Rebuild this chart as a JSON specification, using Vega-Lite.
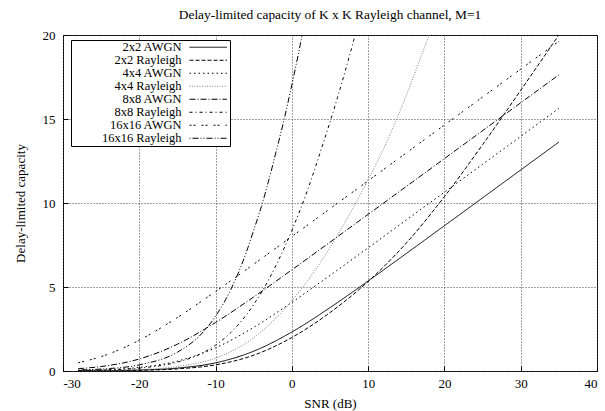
{
  "$schema": "https://vega.github.io/schema/vega-lite/v6.json",
  "width": 534,
  "height": 336,
  "autosize": {"type": "none"},
  "padding": {"left": 63, "top": 35, "right": 8, "bottom": 40},
  "background": "white",
  "title": {"text": "Delay-limited capacity of K x K Rayleigh channel, M=1", "font": "Liberation Serif", "fontSize": 13.4, "fontWeight": "normal", "color": "black", "offset": 8},
  "data": {"values": [
    {"s": "2x2 AWGN", "x": -28, "y": 0.009}, {"s": "2x2 AWGN", "x": -25, "y": 0.018}, {"s": "2x2 AWGN", "x": -20, "y": 0.057}, {"s": "2x2 AWGN", "x": -15, "y": 0.172}, {"s": "2x2 AWGN", "x": -10, "y": 0.485}, {"s": "2x2 AWGN", "x": -5, "y": 1.179}, {"s": "2x2 AWGN", "x": 0, "y": 2.322}, {"s": "2x2 AWGN", "x": 5, "y": 3.771}, {"s": "2x2 AWGN", "x": 10, "y": 5.358}, {"s": "2x2 AWGN", "x": 15, "y": 6.994}, {"s": "2x2 AWGN", "x": 20, "y": 8.648}, {"s": "2x2 AWGN", "x": 25, "y": 10.306}, {"s": "2x2 AWGN", "x": 30, "y": 11.966}, {"s": "2x2 AWGN", "x": 35, "y": 13.627},
    {"s": "2x2 Rayleigh", "x": -28, "y": 0.007}, {"s": "2x2 Rayleigh", "x": -25, "y": 0.013}, {"s": "2x2 Rayleigh", "x": -20, "y": 0.041}, {"s": "2x2 Rayleigh", "x": -15, "y": 0.126}, {"s": "2x2 Rayleigh", "x": -10, "y": 0.366}, {"s": "2x2 Rayleigh", "x": -5, "y": 0.942}, {"s": "2x2 Rayleigh", "x": 0, "y": 1.993}, {"s": "2x2 Rayleigh", "x": 5, "y": 3.477}, {"s": "2x2 Rayleigh", "x": 10, "y": 5.329}, {"s": "2x2 Rayleigh", "x": 15, "y": 7.616}, {"s": "2x2 Rayleigh", "x": 20, "y": 10.378}, {"s": "2x2 Rayleigh", "x": 25, "y": 13.468}, {"s": "2x2 Rayleigh", "x": 30, "y": 16.708}, {"s": "2x2 Rayleigh", "x": 35, "y": 20.003},
    {"s": "4x4 AWGN", "x": -28, "y": 0.036}, {"s": "4x4 AWGN", "x": -25, "y": 0.071}, {"s": "4x4 AWGN", "x": -20, "y": 0.214}, {"s": "4x4 AWGN", "x": -15, "y": 0.591}, {"s": "4x4 AWGN", "x": -10, "y": 1.379}, {"s": "4x4 AWGN", "x": -5, "y": 2.599}, {"s": "4x4 AWGN", "x": 0, "y": 4.087}, {"s": "4x4 AWGN", "x": 5, "y": 5.689}, {"s": "4x4 AWGN", "x": 10, "y": 7.331}, {"s": "4x4 AWGN", "x": 15, "y": 8.986}, {"s": "4x4 AWGN", "x": 20, "y": 10.645}, {"s": "4x4 AWGN", "x": 25, "y": 12.305}, {"s": "4x4 AWGN", "x": 30, "y": 13.966}, {"s": "4x4 AWGN", "x": 35, "y": 15.627},
    {"s": "4x4 Rayleigh", "x": -28, "y": 0.014}, {"s": "4x4 Rayleigh", "x": -25, "y": 0.027}, {"s": "4x4 Rayleigh", "x": -20, "y": 0.086}, {"s": "4x4 Rayleigh", "x": -15, "y": 0.265}, {"s": "4x4 Rayleigh", "x": -10, "y": 0.77}, {"s": "4x4 Rayleigh", "x": -5, "y": 1.98}, {"s": "4x4 Rayleigh", "x": 0, "y": 4.19}, {"s": "4x4 Rayleigh", "x": 5, "y": 7.35}, {"s": "4x4 Rayleigh", "x": 10, "y": 11.4}, {"s": "4x4 Rayleigh", "x": 12, "y": 13.2}, {"s": "4x4 Rayleigh", "x": 15, "y": 16.4}, {"s": "4x4 Rayleigh", "x": 17, "y": 18.8}, {"s": "4x4 Rayleigh", "x": 18, "y": 20.0}, {"s": "4x4 Rayleigh", "x": 19, "y": 21.2},
    {"s": "8x8 AWGN", "x": -28, "y": 0.139}, {"s": "8x8 AWGN", "x": -25, "y": 0.266}, {"s": "8x8 AWGN", "x": -20, "y": 0.714}, {"s": "8x8 AWGN", "x": -15, "y": 1.596}, {"s": "8x8 AWGN", "x": -10, "y": 2.888}, {"s": "8x8 AWGN", "x": -5, "y": 4.409}, {"s": "8x8 AWGN", "x": 0, "y": 6.022}, {"s": "8x8 AWGN", "x": 5, "y": 7.668}, {"s": "8x8 AWGN", "x": 10, "y": 9.324}, {"s": "8x8 AWGN", "x": 15, "y": 10.983}, {"s": "8x8 AWGN", "x": 20, "y": 12.644}, {"s": "8x8 AWGN", "x": 25, "y": 14.305}, {"s": "8x8 AWGN", "x": 30, "y": 15.966}, {"s": "8x8 AWGN", "x": 35, "y": 17.627},
    {"s": "8x8 Rayleigh", "x": -28, "y": 0.028}, {"s": "8x8 Rayleigh", "x": -25, "y": 0.055}, {"s": "8x8 Rayleigh", "x": -20, "y": 0.172}, {"s": "8x8 Rayleigh", "x": -15, "y": 0.53}, {"s": "8x8 Rayleigh", "x": -12, "y": 1.01}, {"s": "8x8 Rayleigh", "x": -10, "y": 1.54}, {"s": "8x8 Rayleigh", "x": -8, "y": 2.29}, {"s": "8x8 Rayleigh", "x": -6, "y": 3.32}, {"s": "8x8 Rayleigh", "x": -5, "y": 3.96}, {"s": "8x8 Rayleigh", "x": -3, "y": 5.47}, {"s": "8x8 Rayleigh", "x": -2, "y": 6.36}, {"s": "8x8 Rayleigh", "x": 0, "y": 8.37}, {"s": "8x8 Rayleigh", "x": 2, "y": 10.7}, {"s": "8x8 Rayleigh", "x": 4, "y": 13.4}, {"s": "8x8 Rayleigh", "x": 6, "y": 16.3}, {"s": "8x8 Rayleigh", "x": 8, "y": 19.5}, {"s": "8x8 Rayleigh", "x": 9, "y": 21.2},
    {"s": "16x16 AWGN", "x": -28, "y": 0.491}, {"s": "16x16 AWGN", "x": -25, "y": 0.856}, {"s": "16x16 AWGN", "x": -20, "y": 1.832}, {"s": "16x16 AWGN", "x": -15, "y": 3.185}, {"s": "16x16 AWGN", "x": -10, "y": 4.734}, {"s": "16x16 AWGN", "x": -5, "y": 6.357}, {"s": "16x16 AWGN", "x": 0, "y": 8.006}, {"s": "16x16 AWGN", "x": 5, "y": 9.663}, {"s": "16x16 AWGN", "x": 10, "y": 11.322}, {"s": "16x16 AWGN", "x": 15, "y": 12.983}, {"s": "16x16 AWGN", "x": 20, "y": 14.644}, {"s": "16x16 AWGN", "x": 25, "y": 16.305}, {"s": "16x16 AWGN", "x": 30, "y": 17.966}, {"s": "16x16 AWGN", "x": 35, "y": 19.627},
    {"s": "16x16 Rayleigh", "x": -28, "y": 0.059}, {"s": "16x16 Rayleigh", "x": -25, "y": 0.116}, {"s": "16x16 Rayleigh", "x": -20, "y": 0.365}, {"s": "16x16 Rayleigh", "x": -15, "y": 1.12}, {"s": "16x16 Rayleigh", "x": -12, "y": 2.14}, {"s": "16x16 Rayleigh", "x": -10, "y": 3.26}, {"s": "16x16 Rayleigh", "x": -8, "y": 4.85}, {"s": "16x16 Rayleigh", "x": -6, "y": 7.03}, {"s": "16x16 Rayleigh", "x": -5, "y": 8.38}, {"s": "16x16 Rayleigh", "x": -4, "y": 9.78}, {"s": "16x16 Rayleigh", "x": -3, "y": 11.4}, {"s": "16x16 Rayleigh", "x": -2, "y": 13.17}, {"s": "16x16 Rayleigh", "x": -1, "y": 15.0}, {"s": "16x16 Rayleigh", "x": 0, "y": 17.04}, {"s": "16x16 Rayleigh", "x": 1, "y": 19.2}, {"s": "16x16 Rayleigh", "x": 2, "y": 21.6}
  ]},
  "mark": {"type": "line", "clip": true, "strokeWidth": 1, "interpolate": "monotone"},
  "encoding": {
    "x": {"field": "x", "type": "quantitative", "scale": {"domain": [-30, 40], "nice": false, "zero": false},
      "axis": {"title": "SNR (dB)", "values": [-30, -20, -10, 0, 10, 20, 30, 40], "labelExpr": "replace(datum.label, '\u2212', '-')", "labelPadding": 11, "titlePadding": 7}},
    "y": {"field": "y", "type": "quantitative", "scale": {"domain": [0, 20], "nice": false},
      "axis": {"title": "Delay-limited capacity", "values": [0, 5, 10, 15, 20], "labelPadding": 13, "titlePadding": 15}},
    "color": {"field": "s", "type": "nominal", "sort": null,
      "scale": {"domain": ["2x2 AWGN", "2x2 Rayleigh", "4x4 AWGN", "4x4 Rayleigh", "8x8 AWGN", "8x8 Rayleigh", "16x16 AWGN", "16x16 Rayleigh"],
        "range": ["#000000", "#000000", "#000000", "#808080", "#000000", "#000000", "#000000", "#000000"]}},
    "strokeDash": {"field": "s", "type": "nominal", "sort": null,
      "scale": {"domain": ["2x2 AWGN", "2x2 Rayleigh", "4x4 AWGN", "4x4 Rayleigh", "8x8 AWGN", "8x8 Rayleigh", "16x16 AWGN", "16x16 Rayleigh"],
        "range": [[1, 0], [4, 2], [1.5, 3], [1, 1.5], [6, 2, 1, 2], [3, 3, 1, 3], [2, 2, 2, 6], [1, 2, 6, 2, 1, 2]]}}
  },
  "config": {
    "font": "Liberation Serif",
    "view": {"stroke": "black", "strokeWidth": 1},
    "axis": {"labelFont": "Liberation Serif", "labelFontSize": 13, "labelColor": "black", "titleFont": "Liberation Serif", "titleFontSize": 13, "titleFontWeight": "normal", "titleColor": "black", "domain": false, "ticks": true, "tickSize": -5, "tickColor": "black", "tickWidth": 1, "grid": true, "gridColor": "#444444", "gridDash": [1, 2], "gridWidth": 1, "gridOpacity": 1},
    "legend": {"orient": "none", "legendX": 8, "legendY": 5, "title": null, "strokeColor": "black", "fillColor": "white", "padding": 1, "symbolType": "M-5,0H5", "symbolSize": 56, "symbolStrokeWidth": 1, "labelAlign": "right", "labelOffset": -33, "symbolOffset": 130, "labelFont": "Liberation Serif", "labelFontSize": 12.5, "labelColor": "black", "rowPadding": 0, "labelLimit": 300}
  }
}
